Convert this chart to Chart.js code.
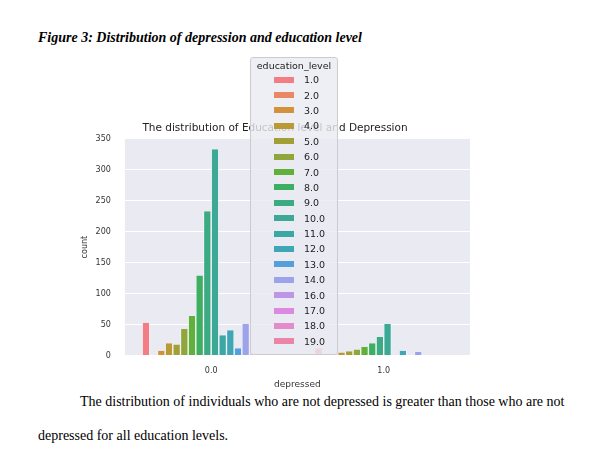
<!DOCTYPE html>
<html><head><meta charset="utf-8">
<script src="https://cdn.jsdelivr.net/npm/chart.js@4"></script>
<style>
body{margin:0;background:#fff;width:612px;height:467px;position:relative;overflow:hidden;font-family:"Liberation Serif",serif;}
#fig{position:absolute;left:38px;top:30px;font-weight:bold;font-style:italic;font-size:14px;}
#wrap{position:absolute;left:80px;top:118px;width:390px;height:272px;}
#p1{position:absolute;left:80px;top:394px;font-size:14px;}
#p2{position:absolute;left:38px;top:428px;font-size:14px;}
#leg{position:absolute;left:250px;top:57px;width:88px;height:298px;background:rgba(234,234,242,0.8);border:1px solid #ccc;border-radius:3px;font-family:"DejaVu Sans",sans-serif;font-size:9.5px;color:#222;box-sizing:border-box;padding-top:2px}
#leg .t{text-align:center;margin-bottom:1px}
#leg .r{height:15.4px;display:flex;align-items:center}
#leg .s{width:20px;height:6px;margin-left:23px;margin-right:10px}
</style></head><body>
<div id="fig">Figure 3: Distribution of depression and education level</div>
<div id="wrap"><canvas id="c" width="390" height="272"></canvas></div>
<div id="leg"></div>
<div id="p1">The distribution of individuals who are not depressed is greater than those who are not</div>
<div id="p2">depressed for all education levels.</div>
<script>
const categories=["0.0","1.0"];
const levels=["1.0","2.0","3.0","4.0","5.0","6.0","7.0","8.0","9.0","10.0","11.0","12.0","13.0","14.0","16.0","17.0","18.0","19.0"];
const notDepressed=[53,0,8,20,18,43,64,129,233,333,33,41,12,51,2,1,0,0];
const depressed=[12,0,1,5,7,10,14,20,30,51,1,8,1,6,0,0,0,0];
const colors=["#f27d84","#ea8866","#d4913b","#b99a35","#a39f37","#8fa63b","#62b03c","#3eae60","#3cab83","#3ba995","#3ca8a5","#3fa6b6","#55a0da","#9da3ea","#bd96e8","#dd89e0","#e38bcd","#ea85a8"];
const bgPlugin={id:'bg',beforeDraw(ch){const a=ch.chartArea,c=ch.ctx;c.save();c.fillStyle='#eaeaf2';c.fillRect(a.left,a.top,a.right-a.left,a.bottom-a.top);c.restore();}};
new Chart(document.getElementById('c'),{type:'bar',
data:{labels:categories,datasets:levels.map((l,i)=>({label:l,data:[notDepressed[i],depressed[i]],backgroundColor:colors[i],borderColor:'#fff',borderWidth:{left:0.7,right:0.7},categoryPercentage:0.8,barPercentage:1}))},
options:{responsive:false,animation:false,devicePixelRatio:1,
layout:{padding:{left:0,right:0,top:0,bottom:0}},
plugins:{legend:{display:false},tooltip:{enabled:false},
title:{display:true,text:'The distribution of Education level and Depression',color:'#222',font:{family:'DejaVu Sans',size:10.5,weight:'normal'},padding:{top:4,bottom:4}}},
scales:{x:{grid:{display:false},border:{display:false},ticks:{color:'#333',font:{family:'DejaVu Sans',size:8}},title:{display:true,text:'depressed',color:'#333',font:{family:'DejaVu Sans',size:9},padding:0}},
y:{min:0,max:350,ticks:{stepSize:50,color:'#333',font:{family:'DejaVu Sans',size:8},padding:6},grid:{color:'#fff',lineWidth:1},border:{display:false},title:{display:true,text:'count',color:'#333',font:{family:'DejaVu Sans',size:8},padding:0}}}},
plugins:[bgPlugin]});
const leg=document.getElementById('leg');
leg.innerHTML='<div class="t">education_level</div>'+levels.map((l,i)=>`<div class="r"><span class="s" style="background:${colors[i]}"></span>${l}</div>`).join('');
</script>
</body></html>
